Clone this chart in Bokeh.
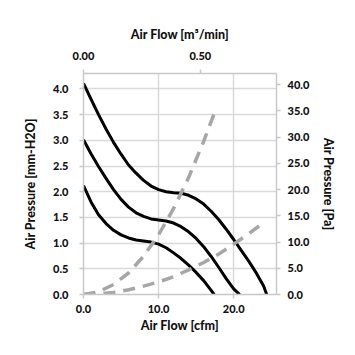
from bokeh.plotting import figure
from bokeh.models import Range1d, LinearAxis, FixedTicker, NumeralTickFormatter
from bokeh.embed import file_html
from bokeh.resources import INLINE

# Fan P-Q curves (cfm, mm-H2O)
q_high = [0, 1, 2, 3, 4, 5, 6, 7, 8, 9, 10, 11, 12, 13, 14, 15, 16, 17, 18, 19, 20, 21, 22, 23, 24, 24.4]
p_high = [4.11, 3.80, 3.50, 3.22, 2.96, 2.73, 2.52, 2.36, 2.22, 2.11, 2.04, 2.00, 1.98, 1.97, 1.93, 1.86, 1.76, 1.62, 1.46, 1.27, 1.07, 0.86, 0.65, 0.42, 0.16, 0.0]

q_mid = [0, 1, 2, 3, 4, 5, 6, 7, 8, 9, 10, 11, 12, 13, 14, 15, 16, 17, 18, 19, 20, 20.8]
p_mid = [3.01, 2.74, 2.49, 2.26, 2.04, 1.85, 1.70, 1.59, 1.52, 1.47, 1.45, 1.43, 1.39, 1.32, 1.22, 1.09, 0.93, 0.74, 0.53, 0.31, 0.11, 0.0]

q_low = [0, 1, 2, 3, 4, 5, 6, 7, 8, 9, 10, 11, 12, 13, 14, 15, 16, 17, 17.4]
p_low = [2.12, 1.80, 1.55, 1.38, 1.25, 1.16, 1.10, 1.06, 1.04, 1.02, 0.98, 0.91, 0.81, 0.70, 0.57, 0.43, 0.27, 0.08, 0.0]

# System impedance curves (cfm, Pa)
q_sys1 = [0, 2, 4, 6, 8, 10, 12, 14, 16, 17.4]
p_sys1 = [0, 0.5, 1.9, 4.1, 7.3, 11.4, 16.4, 22.3, 29.2, 34.5]

q_sys2 = [0, 2, 4, 6, 8, 10, 12, 14, 16, 18, 20, 22, 23.8]
p_sys2 = [0, 0.1, 0.4, 0.9, 1.6, 2.4, 3.4, 4.7, 6.1, 7.7, 9.6, 11.6, 13.5]

x_ticks = [0, 10, 20]
y_ticks = [0, 0.5, 1.0, 1.5, 2.0, 2.5, 3.0, 3.5, 4.0]
top_ticks = [0, 0.5]
right_ticks = [0, 5, 10, 15, 20, 25, 30, 35, 40]

TITLE_FONT = "'Lato Black', 'Lato Heavy', Lato"
TICK_FONT = "'Lato Heavy', Lato"
AX = "#C8C8C8"
GRID = "#D9D9D9"

p = figure(width=355, height=355, output_backend="svg", toolbar_location=None,
           x_range=Range1d(0, 25.7), y_range=Range1d(0, 4.3),
           min_border_left=83, min_border_right=79, min_border_top=73, min_border_bottom=61)
p.outline_line_color = None
p.background_fill_color = "white"
p.border_fill_color = "white"
p.extra_x_ranges = {"m3": Range1d(0, 0.826)}
p.extra_y_ranges = {"pa": Range1d(0, 42.14)}

def style(ax, title, ticks, fmt):
    ax.axis_label = title
    ax.ticker = FixedTicker(ticks=ticks)
    ax.formatter = NumeralTickFormatter(format=fmt)
    ax.axis_line_color = AX
    ax.axis_line_width = 1.5
    ax.major_tick_line_color = AX
    ax.major_tick_line_width = 1.5
    ax.major_tick_out = 4
    ax.major_tick_in = 0
    ax.minor_tick_line_color = None
    ax.major_label_text_font = TICK_FONT
    ax.major_label_text_font_style = "bold"
    ax.major_label_text_font_size = "11px"
    ax.major_label_text_color = "#111111"
    ax.axis_label_text_font = TITLE_FONT
    ax.axis_label_text_font_style = "bold"
    ax.axis_label_text_font_size = "12.5px"
    ax.axis_label_text_color = "#111111"

xb = p.xaxis[0]
style(xb, "Air Flow [cfm]", x_ticks, "0.0")
xb.major_label_standoff = 6
xb.axis_label_standoff = 2
yl = p.yaxis[0]
style(yl, "Air Pressure [mm-H2O]", y_ticks, "0.0")
yl.major_label_standoff = 11
yl.axis_label_standoff = 12

xt = LinearAxis(x_range_name="m3")
style(xt, "Air Flow [m\u00b3/min]", top_ticks, "0.00")
xt.major_label_standoff = 10
xt.axis_label_standoff = 7
p.add_layout(xt, "above")

yr = LinearAxis(y_range_name="pa")
style(yr, "Air Pressure [Pa]", right_ticks, "0.0")
yr.major_label_standoff = 7
yr.axis_label_standoff = 9
p.add_layout(yr, "right")

p.xgrid.ticker = FixedTicker(ticks=x_ticks)
p.ygrid.ticker = FixedTicker(ticks=y_ticks)
p.xgrid.grid_line_color = GRID
p.ygrid.grid_line_color = GRID
p.xgrid.grid_line_width = 1.5
p.ygrid.grid_line_width = 1.5

for q, pr in [(q_high, p_high), (q_mid, p_mid), (q_low, p_low)]:
    p.line(q, pr, line_color="black", line_width=3, line_join="round")

for q, pr in [(q_sys1, p_sys1), (q_sys2, p_sys2)]:
    p.line(q, pr, y_range_name="pa", line_color="#A6A6A6", line_width=3.5, line_dash="12 8")

open("out.html", "w").write(file_html(p, INLINE))
